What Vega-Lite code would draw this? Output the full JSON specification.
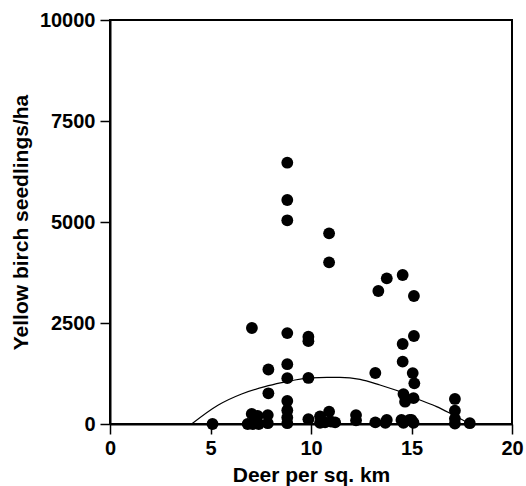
{
  "$schema": "https://vega.github.io/schema/vega-lite/v6.json",
  "autosize": {"type": "none"},
  "width": 402,
  "height": 404,
  "padding": {"left": 110, "top": 20, "right": 14, "bottom": 62},
  "background": "white",
  "config": {
    "view": {"stroke": "black", "strokeWidth": 2},
    "font": "Liberation Sans",
    "axis": {
      "grid": false,
      "domainColor": "black",
      "domainWidth": 2,
      "tickColor": "black",
      "tickWidth": 1.5,
      "tickSize": 10,
      "labelFont": "Liberation Sans",
      "labelFontWeight": "bold",
      "labelFontSize": 20,
      "labelColor": "black",
      "titleFont": "Liberation Sans",
      "titleFontWeight": "bold",
      "titleFontSize": 21,
      "titleColor": "black"
    }
  },
  "datasets": {
    "pts": [
      {"deer": 5.1, "seedlings": 0},
      {"deer": 7.06, "seedlings": 2376},
      {"deer": 7.05, "seedlings": 250},
      {"deer": 6.85, "seedlings": 0},
      {"deer": 7.1, "seedlings": 0},
      {"deer": 7.35, "seedlings": 200},
      {"deer": 7.4, "seedlings": 0},
      {"deer": 7.88, "seedlings": 1350},
      {"deer": 7.88, "seedlings": 760},
      {"deer": 7.85, "seedlings": 220},
      {"deer": 7.85, "seedlings": 20},
      {"deer": 8.82, "seedlings": 6468},
      {"deer": 8.82, "seedlings": 5545},
      {"deer": 8.82, "seedlings": 5042},
      {"deer": 8.82, "seedlings": 2250},
      {"deer": 8.82, "seedlings": 1480},
      {"deer": 8.82, "seedlings": 1135},
      {"deer": 8.82, "seedlings": 570},
      {"deer": 8.82, "seedlings": 340},
      {"deer": 8.82, "seedlings": 160},
      {"deer": 8.82, "seedlings": 20},
      {"deer": 9.87, "seedlings": 2160},
      {"deer": 9.87, "seedlings": 2050},
      {"deer": 9.87, "seedlings": 1140},
      {"deer": 9.87, "seedlings": 120},
      {"deer": 10.45, "seedlings": 190},
      {"deer": 10.7, "seedlings": 40},
      {"deer": 10.45, "seedlings": 30},
      {"deer": 10.9, "seedlings": 4720},
      {"deer": 10.9, "seedlings": 4002},
      {"deer": 10.9, "seedlings": 305},
      {"deer": 11.0, "seedlings": 60},
      {"deer": 11.2, "seedlings": 40},
      {"deer": 12.24, "seedlings": 220},
      {"deer": 12.24, "seedlings": 90},
      {"deer": 13.2, "seedlings": 1262},
      {"deer": 13.35, "seedlings": 3292},
      {"deer": 13.2, "seedlings": 40},
      {"deer": 13.77, "seedlings": 3606},
      {"deer": 13.77, "seedlings": 100},
      {"deer": 13.7, "seedlings": 30},
      {"deer": 14.56, "seedlings": 3688},
      {"deer": 14.56, "seedlings": 1980},
      {"deer": 14.56, "seedlings": 1543},
      {"deer": 14.6, "seedlings": 740},
      {"deer": 14.68, "seedlings": 552},
      {"deer": 14.5, "seedlings": 100},
      {"deer": 14.6, "seedlings": 30},
      {"deer": 15.12, "seedlings": 3168},
      {"deer": 15.12, "seedlings": 2178},
      {"deer": 15.06, "seedlings": 1260},
      {"deer": 15.14, "seedlings": 1007},
      {"deer": 15.1, "seedlings": 640},
      {"deer": 15.0, "seedlings": 100},
      {"deer": 15.1, "seedlings": 30},
      {"deer": 14.9, "seedlings": 100},
      {"deer": 17.16, "seedlings": 620},
      {"deer": 17.16, "seedlings": 330},
      {"deer": 17.16, "seedlings": 130},
      {"deer": 17.16, "seedlings": 10},
      {"deer": 17.9, "seedlings": 20}
    ],
    "curve": [
      {"deer": 4.06, "seedlings": 0},
      {"deer": 5.39, "seedlings": 470},
      {"deer": 6.55, "seedlings": 743},
      {"deer": 7.71, "seedlings": 924},
      {"deer": 8.54, "seedlings": 1022},
      {"deer": 9.2, "seedlings": 1089},
      {"deer": 10.0, "seedlings": 1140},
      {"deer": 10.8, "seedlings": 1155},
      {"deer": 11.44, "seedlings": 1155},
      {"deer": 12.44, "seedlings": 1106},
      {"deer": 13.43, "seedlings": 965},
      {"deer": 14.43, "seedlings": 800},
      {"deer": 15.42, "seedlings": 594},
      {"deer": 16.25, "seedlings": 429},
      {"deer": 16.92, "seedlings": 264},
      {"deer": 17.9, "seedlings": 0}
    ]
  },
  "encoding": {
    "x": {
      "field": "deer", "type": "quantitative",
      "scale": {"domain": [0, 20], "nice": false, "zero": false},
      "axis": {"values": [0, 5, 10, 15, 20], "title": "Deer per sq. km", "labelPadding": 4, "titlePadding": 6, "labelFlush": false}
    },
    "y": {
      "field": "seedlings", "type": "quantitative",
      "scale": {"domain": [0, 10000], "nice": false},
      "axis": {"values": [0, 2500, 5000, 7500, 10000], "format": "d", "title": "Yellow birch seedlings/ha", "labelPadding": 5, "titlePadding": 8}
    }
  },
  "layer": [
    {
      "data": {"name": "curve"},
      "mark": {"type": "line", "color": "black", "strokeWidth": 1.2, "interpolate": "monotone"}
    },
    {
      "data": {"name": "pts"},
      "mark": {"type": "point", "filled": true, "shape": "circle", "size": 140, "color": "black", "opacity": 1}
    }
  ]
}
